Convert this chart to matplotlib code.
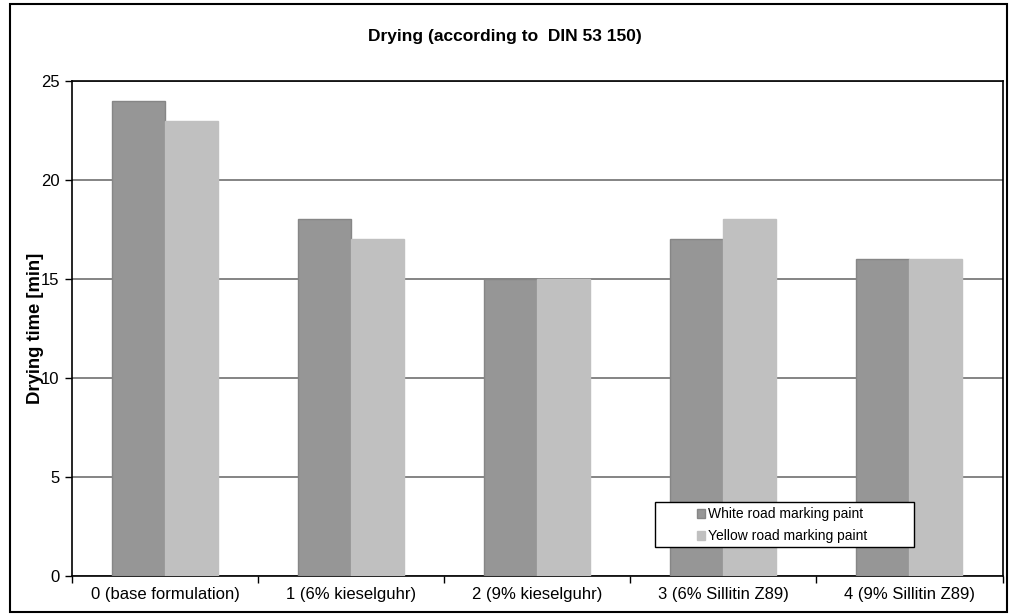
import matplotlib.pyplot as plt
import numpy as np
from matplotlib.patches import Rectangle

plt.rcParams['font.family'] = ['Liberation Sans', 'DejaVu Sans']

categories = ["0 (base formulation)", "1 (6% kieselguhr)", "2 (9% kieselguhr)",
              "3 (6% Sillitin Z89)", "4 (9% Sillitin Z89)"]
white_paint = [24, 18, 15, 17, 16]
yellow_paint = [23, 17, 15, 18, 16]

W, H = 1010, 615
fig = plt.figure(figsize=(W/100, H/100), dpi=100)
ax = fig.add_axes([72/W, 1 - 575.5/H, (1002.5 - 72)/W, (575.5 - 81)/H])

x = np.arange(len(categories))
w = 0.285
ax.bar(x - w/2, white_paint, w, color='#969696', edgecolor='#868686', linewidth=1,
       label='White road marking paint', zorder=3)
ax.bar(x + w/2, yellow_paint, w, color='#c0c0c0', edgecolor='#c0c0c0', linewidth=1,
       label='Yellow road marking paint', zorder=3)

ax.set_xlim(-0.5, len(categories) - 0.5)
ax.set_ylim(0, 25)
ax.set_yticks([0, 5, 10, 15, 20, 25])
ax.yaxis.grid(True, color='#707070', linewidth=1.2, zorder=0)
ax.tick_params(axis='y', direction='out', length=5, width=1, labelsize=12, pad=4)

# category labels centred, ticks on the boundaries
ax.set_xticks(x)
ax.set_xticklabels(categories, fontsize=12)
ax.tick_params(axis='x', which='major', length=0, pad=8)
ax.set_xticks(np.arange(-0.5, len(categories)), minor=True)
ax.tick_params(axis='x', which='minor', direction='out', length=5, width=1)

for s in ax.spines.values():
    s.set_color('black')
    s.set_linewidth(1.2)

# the label sits over the tick numbers, as in the original sheet
ax.set_ylabel('Drying time [min]', fontsize=13.3, fontweight='bold')
ax.yaxis.set_label_coords((44 - 72)/930.5, 0.5)

fig.text(505/W, 1 - 37/H, 'Drying (according to  DIN 53 150)', ha='center', va='center',
         fontsize=12.5, fontweight='bold')

# legend box drawn separately so the entries can sit right of centre
ax.add_patch(Rectangle((655/W, 1 - 547/H), (914 - 655)/W, (547 - 502)/H,
                       transform=fig.transFigure, facecolor='white', edgecolor='black',
                       linewidth=1, zorder=4))
leg = ax.legend(loc='upper left', bbox_to_anchor=(697/W, 1 - 507/H),
                bbox_transform=fig.transFigure, frameon=False,
                fontsize=10, handlelength=0.6, handleheight=0.6, handletextpad=0.2,
                borderpad=0, labelspacing=0.6, borderaxespad=0)
leg.set_zorder(5)

fig.patches.append(Rectangle((10/W, 1 - 612/H), (1007 - 10)/W, (612 - 4)/H,
                             transform=fig.transFigure, fill=False, edgecolor='black',
                             linewidth=1.5))

fig.savefig('out.png', dpi=100)
